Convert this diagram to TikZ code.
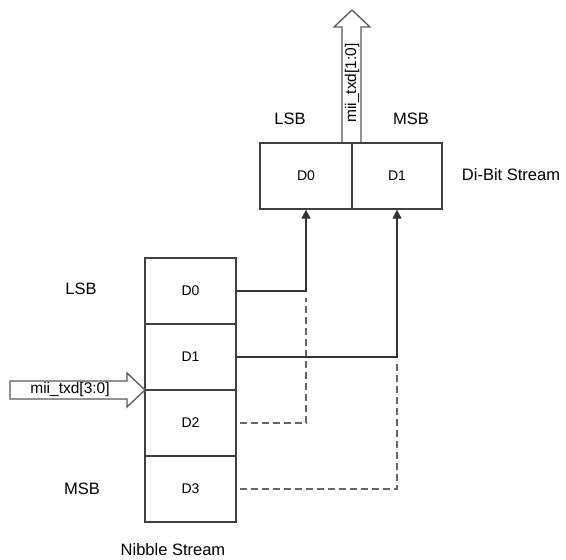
\documentclass[tikz,border=0pt]{standalone}
\usepackage{fontspec}
\setmainfont{Liberation Sans}
\usetikzlibrary{arrows.meta,calc}
\begin{document}
\begin{tikzpicture}[x=1pt,y=-1pt,
  cell/.style={draw=black!75,line width=1.3pt,fill=white,inner sep=0pt,font=\fontsize{14}{16}\selectfont},
  lbl/.style={inner sep=0pt,font=\fontsize{16.5}{18}\selectfont},
  sml/.style={inner sep=0pt,font=\fontsize{15.5}{17}\selectfont},
  conn/.style={draw=black!80,line width=1.3pt},
  dconn/.style={draw=black!60,line width=1.3pt,dash pattern=on 7pt off 4pt},
  tip/.style={-{Triangle[length=9pt,width=9pt]}},
  blockarrow/.style={draw=black!65,line width=1.3pt,fill=white,line join=miter}
]
\useasboundingbox (0,0) rectangle (566,560);
% up block arrow
\draw[blockarrow] (342,143) -- (342,27) -- (334,27) -- (352,10) -- (370,27) -- (361,27) -- (361,143);
\node[sml,rotate=90] (uptxt) at (352,83) {mii\_txd[1:0]};
% top cells
\node[cell,minimum width=92,minimum height=66] (tD0) at (306,176) {D0};
\node[cell,minimum width=90,minimum height=66] (tD1) at (397,176) {D1};
\node[lbl] (tlsb) at (290,119) {LSB};
\node[lbl] (tmsb) at (411,119) {MSB};
\node[lbl] (dibit) at (511,175) {Di-Bit Stream};
% nibble stack
\node[cell,minimum width=91,minimum height=66] (n0) at (190.5,291) {D0};
\node[cell,minimum width=91,minimum height=66] (n1) at (190.5,357) {D1};
\node[cell,minimum width=91,minimum height=66] (n2) at (190.5,423) {D2};
\node[cell,minimum width=91,minimum height=66] (n3) at (190.5,489) {D3};
\node[lbl] (lsb) at (81,289) {LSB};
\node[lbl] (msb) at (82,489) {MSB};
\node[lbl] (nib) at (173,550) {Nibble Stream};
% left block arrow
\draw[blockarrow] (10,381) -- (127,381) -- (127,373) -- (145,390) -- (127,407) -- (127,399) -- (10,399) -- cycle;
\node[sml] (intxt) at (70,389) {mii\_txd[3:0]};
% connectors
\coordinate (c2) at (306,298);
\coordinate (c3) at (397,362);
\draw[dconn] ([xshift=3pt]n2.east) -| (c2);
\draw[dconn] ([xshift=3pt]n3.east) -| (c3);
\draw[conn,tip] (n0.east) -| (tD0.south);
\draw[conn,tip] (n1.east) -| (tD1.south);
\end{tikzpicture}
\end{document}
